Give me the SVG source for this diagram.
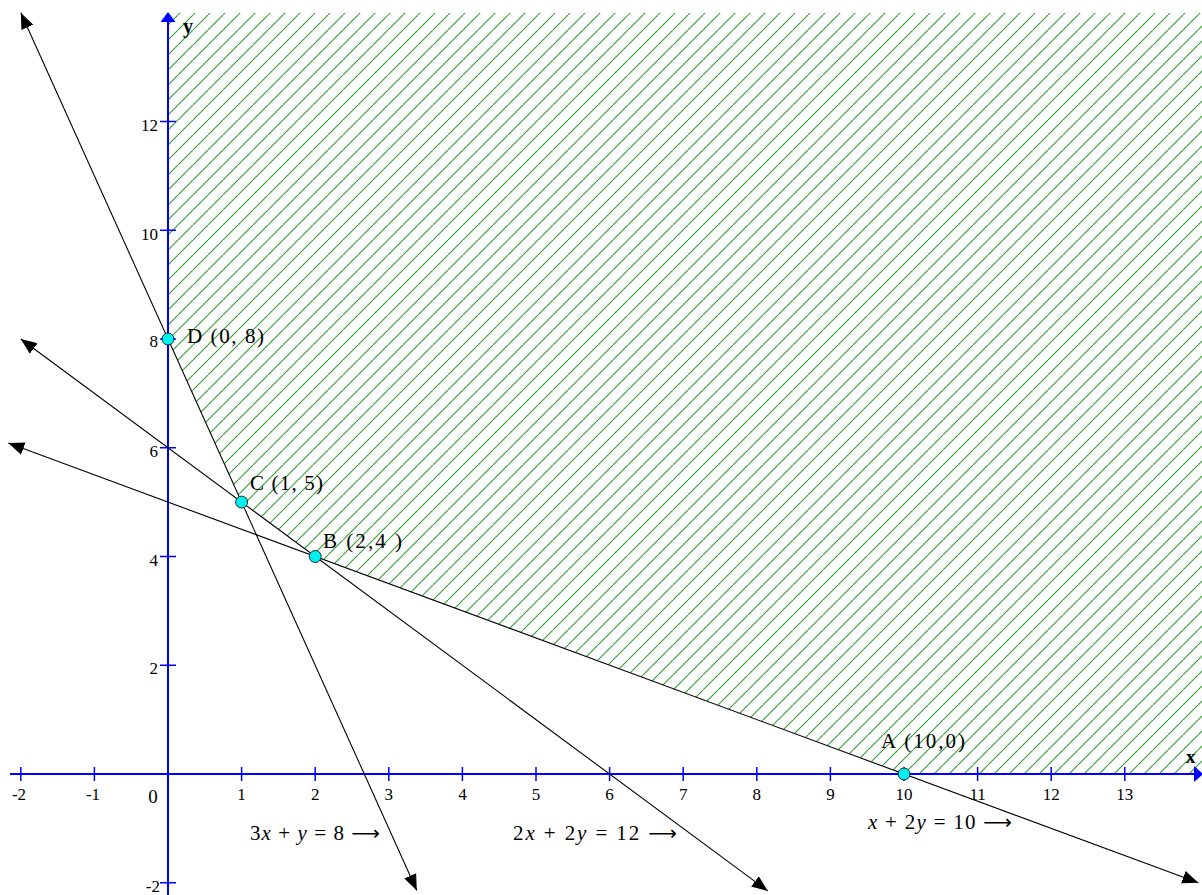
<svg xmlns="http://www.w3.org/2000/svg" width="1202" height="895" viewBox="0 0 1202 895">
<style>
.axis{stroke:#0000ff;stroke-width:2;fill:none}
.tick{stroke:#0000ff;stroke-width:1.5}
.tl{font-family:"Liberation Serif","Times New Roman",serif;font-size:17px;fill:#000}
.pl{font-family:"Liberation Serif","Times New Roman",serif;font-size:21px;fill:#000}
.eq{font-family:"Liberation Serif","Times New Roman",serif;font-size:21px;fill:#000}
.it{font-style:italic}
.ar{font-family:"DejaVu Sans",sans-serif;font-size:20px}
.ln{stroke:#000;stroke-width:1.1;fill:none;marker-start:url(#ah);marker-end:url(#ah)}
.pt{fill:#00f0f0;stroke:#000;stroke-width:0.8}
</style>
<defs>
<pattern id="hatch" patternUnits="userSpaceOnUse" x="13" y="0" width="15" height="15">
<path d="M-2,17 L17,-2" stroke="#2f9a2f" stroke-width="1.1"/>
</pattern>
<marker id="ah" markerUnits="userSpaceOnUse" markerWidth="18" markerHeight="14" refX="16" refY="6.5" orient="auto-start-reverse">
<path d="M0,0 L16,6.5 L0,13 z" fill="#000"/>
</marker>
</defs>
<rect width="1202" height="895" fill="#fff"/>
<g id="feasible-region">
<polygon points="168,13 1202,13 1202,774 904,774 315.2,556.5 241.6,502.1 168,339" fill="url(#hatch)"/>
</g>
<g id="axes">
<line class="axis" x1="10" y1="774" x2="1195" y2="774"/>
<polygon points="1194,766 1203,774 1194,782" fill="#0000ff"/>
<line class="axis" x1="168" y1="895" x2="168" y2="20"/>
<polygon points="160.5,22 168,12 175.5,22" fill="#0000ff"/>
<g class="tick">
<line x1="20.8" y1="767" x2="20.8" y2="781"/>
<line x1="94.4" y1="767" x2="94.4" y2="781"/>
<line x1="241.6" y1="767" x2="241.6" y2="781"/>
<line x1="315.2" y1="767" x2="315.2" y2="781"/>
<line x1="388.8" y1="767" x2="388.8" y2="781"/>
<line x1="462.4" y1="767" x2="462.4" y2="781"/>
<line x1="536" y1="767" x2="536" y2="781"/>
<line x1="609.6" y1="767" x2="609.6" y2="781"/>
<line x1="683.2" y1="767" x2="683.2" y2="781"/>
<line x1="756.8" y1="767" x2="756.8" y2="781"/>
<line x1="830.4" y1="767" x2="830.4" y2="781"/>
<line x1="904" y1="767" x2="904" y2="781"/>
<line x1="977.6" y1="767" x2="977.6" y2="781"/>
<line x1="1051.2" y1="767" x2="1051.2" y2="781"/>
<line x1="1124.8" y1="767" x2="1124.8" y2="781"/>
<line x1="160" y1="121.5" x2="176" y2="121.5"/>
<line x1="160" y1="230.25" x2="176" y2="230.25"/>
<line x1="160" y1="339" x2="176" y2="339"/>
<line x1="160" y1="447.75" x2="176" y2="447.75"/>
<line x1="160" y1="556.5" x2="176" y2="556.5"/>
<line x1="160" y1="665.25" x2="176" y2="665.25"/>
<line x1="160" y1="882.75" x2="176" y2="882.75"/>
</g>
<g class="tl" text-anchor="middle">
<text x="19" y="800">-2</text>
<text x="93" y="800">-1</text>
<text x="241.6" y="800">1</text>
<text x="315.2" y="800">2</text>
<text x="388.8" y="800">3</text>
<text x="462.4" y="800">4</text>
<text x="536" y="800">5</text>
<text x="609.6" y="800">6</text>
<text x="683.2" y="800">7</text>
<text x="756.8" y="800">8</text>
<text x="830.4" y="800">9</text>
<text x="904" y="800">10</text>
<text x="977.6" y="800">11</text>
<text x="1051.2" y="800">12</text>
<text x="1124.8" y="800">13</text>
</g>
<g class="tl" text-anchor="end">
<text x="158" y="131">12</text>
<text x="158" y="240">10</text>
<text x="158" y="347">8</text>
<text x="158" y="457">6</text>
<text x="158" y="566">4</text>
<text x="158" y="674">2</text>
<text x="160" y="892">-2</text>
</g>
<text x="153" y="803" text-anchor="middle" font-family="Liberation Serif, serif" font-size="19">0</text>
<text x="183" y="33" font-family="Liberation Serif, serif" font-size="20" font-weight="bold">y</text>
<text x="1186" y="763" font-family="Liberation Serif, serif" font-size="19" font-weight="bold">x</text>
</g>
<g id="connectors">
<line id="l1" class="ln" x1="20.8" y1="12.75" x2="416.8" y2="890.4"/>
<line id="l2" class="ln" x1="20.8" y1="339" x2="767.8" y2="890.9"/>
<line id="l3" class="ln" x1="8.3" y1="443.1" x2="1198.4" y2="882.75"/>
</g>
<g id="point-D">
<circle class="pt" cx="168" cy="339" r="6"/>
<text class="pl" x="187" y="343" textLength="77" lengthAdjust="spacing">D (0, 8)</text>
</g>
<g id="point-C">
<circle class="pt" cx="241.6" cy="502.1" r="6"/>
<text class="pl" x="250" y="490" textLength="73" lengthAdjust="spacing">C (1, 5)</text>
</g>
<g id="point-B">
<circle class="pt" cx="315.2" cy="556.5" r="6"/>
<text class="pl" x="323" y="548" textLength="79" lengthAdjust="spacing">B (2,4 )</text>
</g>
<g id="point-A">
<circle class="pt" cx="904" cy="774" r="6"/>
<text class="pl" x="881" y="748" textLength="84" lengthAdjust="spacing">A (10,0)</text>
</g>
<g id="equation-labels">
<text class="eq" x="250" y="840" textLength="130" lengthAdjust="spacing">3<tspan class="it">x</tspan> + <tspan class="it">y</tspan> = 8 <tspan class="ar">⟶</tspan></text>
<text class="eq" x="513" y="840" textLength="164" lengthAdjust="spacing">2<tspan class="it">x</tspan> + 2<tspan class="it">y</tspan> = 12  <tspan class="ar">⟶</tspan></text>
<text class="eq" x="868" y="829" textLength="144" lengthAdjust="spacing"><tspan class="it">x</tspan> + 2<tspan class="it">y</tspan> = 10 <tspan class="ar">⟶</tspan></text>
</g>
</svg>
